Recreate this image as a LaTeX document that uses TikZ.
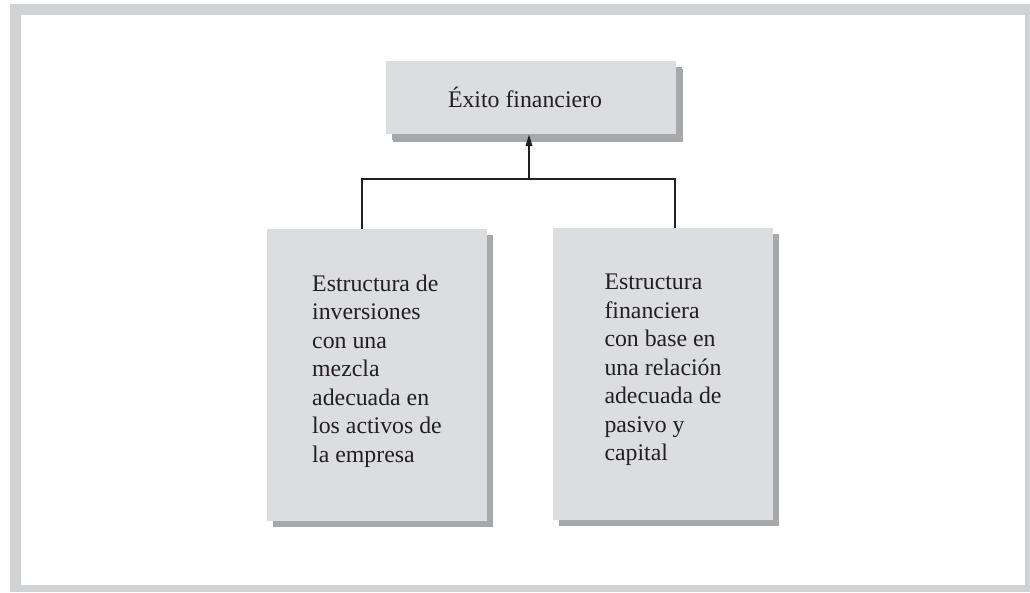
\documentclass[tikz,border=0pt]{standalone}
\usepackage{fontspec}
\setmainfont{Liberation Serif}
\usetikzlibrary{shadows,arrows.meta}
\definecolor{framec}{HTML}{D1D2D4}
\definecolor{boxc}{HTML}{DCDDDF}
\definecolor{shadc}{HTML}{A7A8AB}
\definecolor{inkc}{HTML}{231F20}
\tikzset{
  box/.style={fill=boxc, draw=none, inner sep=0pt,
    drop shadow={shadow xshift=6pt, shadow yshift=-6pt, fill=shadc, opacity=1}},
  txt/.style={inner sep=0pt, align=left, text=inkc,
    font=\fontsize{23.8}{28.5}\selectfont},
  conn/.style={draw=inkc, line width=2pt},
  arr/.style={conn, -{Triangle[length=12pt,width=6.5pt]}}
}
\begin{document}
\begin{tikzpicture}[x=1pt,y=-1pt]
\useasboundingbox (0,0) rectangle (1030,592);
\fill[framec] (10,4) rectangle (1030,592);
\fill[white] (21,15) rectangle (1025,585);
% boxes
\node[box, minimum width=290pt, minimum height=73pt,
  drop shadow={shadow xshift=7pt, shadow yshift=-8pt, fill=shadc, opacity=1}] (T) at (531,97.5) {};
\node[txt] (Tt) at (525,97) {Éxito financiero};
\node[box, minimum width=220pt, minimum height=292pt] (L) at (377,375) {};
\node[txt] (Lt) at (377,371) {Estructura de\\inversiones\\con una\\mezcla\\adecuada en\\los activos de\\la empresa};
\node[box, minimum width=220pt, minimum height=292pt] (R) at (663,374) {};
\node[txt] (Rt) at (663,370) {Estructura\\financiera\\con base en\\una relación\\adecuada de\\pasivo y\\capital};
% connectors
\coordinate (j) at (529,179);
\coordinate (jl) at (362,179);
\coordinate (jr) at (675,179);
\draw[conn] (jl |- L.north) -- (jl) -- (jr) -- (jr |- R.north);
\draw[arr] (j) -- (j |- T.south);
\end{tikzpicture}
\end{document}
